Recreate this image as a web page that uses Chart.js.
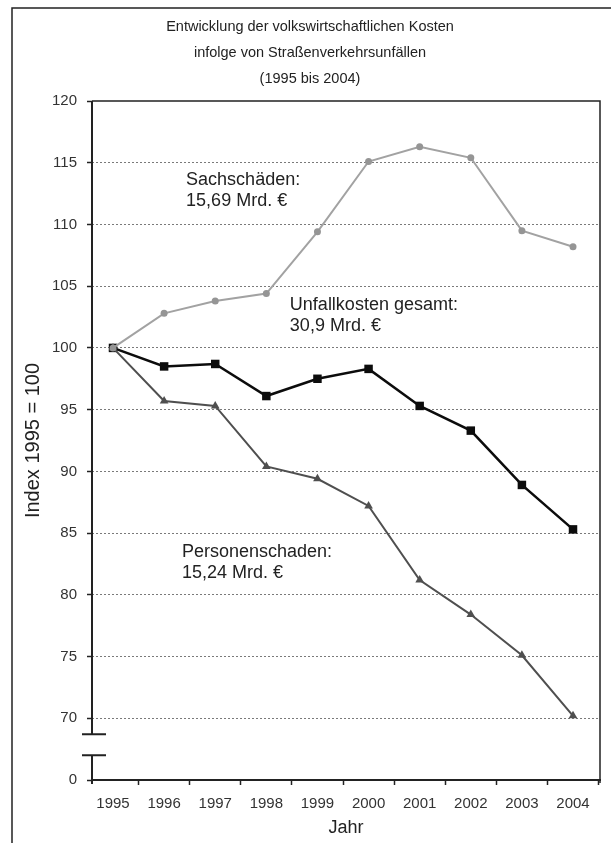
<!DOCTYPE html>
<html>
<head>
<meta charset="utf-8">
<title>Volkswirtschaftliche Kosten</title>
<script src="https://cdn.jsdelivr.net/npm/chart.js@4.4.1/dist/chart.umd.min.js"></script>
<style>
    html, body { margin: 0; padding: 0; background: #fff; }
    canvas { display: block; }
</style>
</head>
<body>
<canvas id="myChart" width="611" height="843"></canvas>
<script>
const YEARS = [1995, 1996, 1997, 1998, 1999, 2000, 2001, 2002, 2003, 2004];
const SACHSCHAEDEN = [100, 102.8, 103.8, 104.4, 109.4, 115.1, 116.3, 115.4, 109.5, 108.2];
const GESAMT = [100, 98.5, 98.7, 96.1, 97.5, 98.3, 95.3, 93.3, 88.9, 85.3];
const PERSONENSCHADEN = [100, 95.7, 95.3, 90.4, 89.4, 87.2, 81.2, 78.4, 75.1, 70.2];

// y ticks: 65 stands in for the "0" below the axis break
const Y_TICKS = [65, 70, 75, 80, 85, 90, 95, 100, 105, 110, 115, 120];
const Y_TICK_LABELS = ["0", "70", "75", "80", "85", "90", "95", "100", "105", "110", "115", "120"];
const BREAK_HI = 68.7;
const BREAK_LO = 67.0;

const TITLE_LINES = [
    "Entwicklung der volkswirtschaftlichen Kosten",
    "infolge von Straßenverkehrsunfällen",
    "(1995 bis 2004)",
];

// text boxes next to the lines (anchored in year / index units)
const NOTES = [
    { lines: ["Sachschäden:", "15,69 Mrd. €"], year: 1996.43, value: 113.6 },
    { lines: ["Unfallkosten gesamt:", "30,9 Mrd. €"], year: 1998.46, value: 103.5 },
    { lines: ["Personenschaden:", "15,24 Mrd. €"], year: 1996.35, value: 83.5 },
];

const FONT = "'Liberation Sans', Arial, sans-serif";
const INK = "#222";

const toPoints = (values) => values.map((v, i) => ({ x: YEARS[i], y: v }));

const framePlugin = {
    id: "frame",
    beforeDraw(chart) {
        const ctx = chart.ctx;
        ctx.save();
        ctx.fillStyle = "#fff";
        ctx.fillRect(0, 0, chart.width, chart.height);
        // outer box of the figure
        ctx.strokeStyle = INK;
        ctx.lineWidth = 1.5;
        ctx.beginPath();
        ctx.moveTo(12, chart.height);
        ctx.lineTo(12, 8);
        ctx.lineTo(chart.width, 8);
        ctx.stroke();
        ctx.restore();
    },
    afterDatasetsDraw(chart) {
        const { ctx, chartArea: a, scales } = chart;
        const yHi = scales.y.getPixelForValue(BREAK_HI);
        const yLo = scales.y.getPixelForValue(BREAK_LO);
        ctx.save();
        ctx.strokeStyle = INK;
        ctx.lineWidth = 1.5;
        ctx.beginPath();
        // top and right edge of the plot box
        ctx.moveTo(a.left, a.top);
        ctx.lineTo(a.right, a.top);
        ctx.lineTo(a.right, a.bottom + 3);
        ctx.stroke();
        // broken y axis
        ctx.lineWidth = 2;
        ctx.beginPath();
        ctx.moveTo(a.left, a.top);
        ctx.lineTo(a.left, yHi);
        ctx.moveTo(a.left, yLo);
        ctx.lineTo(a.left, a.bottom + 4);
        ctx.moveTo(a.left - 10, yHi);
        ctx.lineTo(a.left + 14, yHi);
        ctx.moveTo(a.left - 10, yLo);
        ctx.lineTo(a.left + 14, yLo);
        ctx.stroke();

        ctx.fillStyle = INK;
        ctx.font = `18px ${FONT}`;
        ctx.textAlign = "left";
        ctx.textBaseline = "middle";
        NOTES.forEach((n) => {
            const x = scales.x.getPixelForValue(n.year);
            const y = scales.y.getPixelForValue(n.value);
            n.lines.forEach((line, i) => ctx.fillText(line, x, y + i * 21));
        });
        ctx.restore();
    },
};

let newChart = new Chart(document.getElementById("myChart"), {
    type: "line",
    data: {
        datasets: [
            {
                label: "Sachschäden",
                data: toPoints(SACHSCHAEDEN),
                borderColor: "#a2a2a2",
                backgroundColor: "#959595",
                borderWidth: 2,
                pointStyle: "circle",
                pointRadius: 3.5,
                pointBorderWidth: 0,
            },
            {
                label: "Personenschaden",
                data: toPoints(PERSONENSCHADEN),
                borderColor: "#4f4f4f",
                backgroundColor: "#4f4f4f",
                borderWidth: 2,
                pointStyle: "triangle",
                pointRadius: 5,
                pointBorderWidth: 0,
            },
            {
                label: "Unfallkosten gesamt",
                data: toPoints(GESAMT),
                borderColor: "#0c0c0c",
                backgroundColor: "#0c0c0c",
                borderWidth: 2.5,
                pointStyle: "rect",
                pointRadius: 6,
                pointBorderWidth: 0,
            },
        ],
    },
    options: {
        responsive: false,
        animation: false,
        devicePixelRatio: 1,
        layout: { padding: { left: 20, right: 11, top: 0, bottom: 0 } },
        plugins: {
            legend: { display: false },
            tooltip: { enabled: false },
            title: {
                display: true,
                text: TITLE_LINES,
                color: INK,
                font: { family: FONT, size: 14.5, weight: "normal", lineHeight: "26px" },
                padding: { top: 14, bottom: 9 },
            },
        },
        scales: {
            x: {
                type: "linear",
                min: 1994.589,
                max: 2004.528,
                afterFit: (s) => { s.height = 63; },
                afterBuildTicks: (s) => { s.ticks = YEARS.map((v) => ({ value: v })); },
                border: { display: true, color: INK, width: 2 },
                grid: {
                    offset: true,
                    drawOnChartArea: false,
                    drawTicks: true,
                    tickLength: 5,
                    tickColor: INK,
                    tickWidth: 1.5,
                },
                ticks: {
                    color: "#333",
                    font: { family: FONT, size: 15 },
                    padding: 10,
                    maxRotation: 0,
                    autoSkip: false,
                    callback: (v) => String(v),
                },
                title: {
                    display: true,
                    text: "Jahr",
                    color: INK,
                    font: { family: FONT, size: 18 },
                    padding: { top: 0, bottom: 4 },
                },
            },
            y: {
                min: 65,
                max: 120,
                afterFit: (s) => { s.width = 72; },
                afterBuildTicks: (s) => { s.ticks = Y_TICKS.map((v) => ({ value: v })); },
                // dash here applies to the horizontal grid lines
                border: { display: false, dash: [2, 2] },
                grid: {
                    color: (c) => (c.tick && (c.tick.value === 65 || c.tick.value === 120) ? "rgba(0,0,0,0)" : "#7a7a7a"),
                    lineWidth: 1,
                    drawTicks: true,
                    tickLength: 5,
                    tickColor: INK,
                    tickWidth: 1.5,
                    tickBorderDash: [],
                },
                ticks: {
                    color: "#333",
                    font: { family: FONT, size: 15 },
                    padding: 10,
                    autoSkip: false,
                    callback: (v) => Y_TICK_LABELS[Y_TICKS.indexOf(v)],
                },
                title: {
                    display: true,
                    text: "Index 1995 = 100",
                    color: INK,
                    font: { family: FONT, size: 20 },
                    padding: { top: 1, bottom: 0 },
                },
            },
        },
    },
    plugins: [framePlugin],
});
</script>
</body>
</html>
